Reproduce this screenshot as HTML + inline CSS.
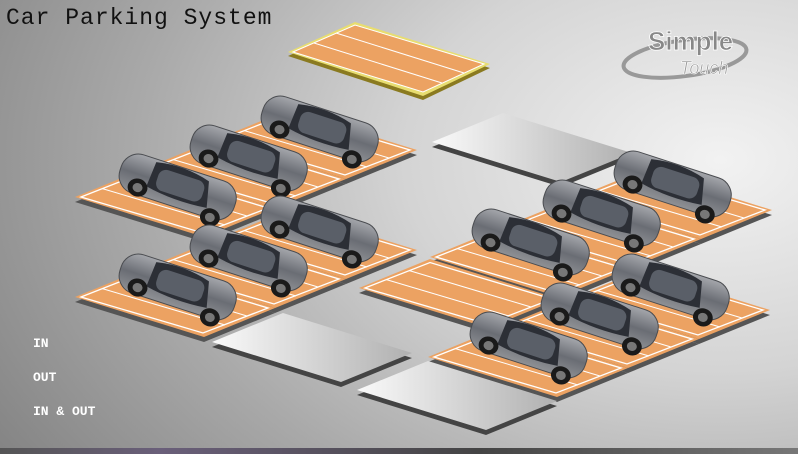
<!DOCTYPE html>
<html><head><meta charset="utf-8"><style>
html,body{margin:0;padding:0;width:798px;height:454px;overflow:hidden}
body{background:radial-gradient(ellipse 900px 600px at 720px 160px,#f2f2f2 0%,#d4d4d4 35%,#a9a9a9 65%,#7c7c7c 100%);font-family:"Liberation Sans",sans-serif;position:relative}
.t{position:absolute;left:6px;top:5px;font-family:"Liberation Mono",monospace;font-size:23px;color:#111;letter-spacing:1px}
.lab{position:absolute;left:33px;font-family:"Liberation Mono",monospace;font-weight:bold;font-size:13px;color:#fff}
.bar{position:absolute;left:0;top:448px;width:798px;height:6px;background:linear-gradient(90deg,#555,#6a5f7a 20%,#444 60%,#777)}
</style></head><body>
<div class="t">Car Parking System</div>
<div class="lab" style="top:336px">IN</div>
<div class="lab" style="top:370px">OUT</div>
<div class="lab" style="top:404px">IN &amp; OUT</div>
<svg width="798" height="454" style="position:absolute;left:0;top:0">
<defs>
<linearGradient id="padg" x1="0" y1="0" x2="1" y2="0"><stop offset="0" stop-color="#fafafa"/><stop offset="1" stop-color="#b0b0b0"/></linearGradient>
<linearGradient id="body" x1="0" y1="0" x2="0" y2="1"><stop offset="0" stop-color="#a4a6ab"/><stop offset=".5" stop-color="#6a6d74"/><stop offset="1" stop-color="#8f9195"/></linearGradient>
<g id="slot">
<polygon points="0,5 71,-24 200,16 129,45" fill="#555"/>
<polygon points="0,0 71,-29 200,11 129,40" fill="#eca262"/>
<polygon points="6,0 71,-25.5 193,11 128,36" fill="none" stroke="#fff" stroke-width="1.3"/>
<line x1="27" y1="-8.5" x2="150" y2="28" stroke="#fff" stroke-width="1"/>
<line x1="50" y1="-17.5" x2="172" y2="19" stroke="#fff" stroke-width="1"/>
</g>
<g id="gpad">
<polygon points="0,5 71,-24 200,16 129,45" fill="#444"/>
<polygon points="0,0 71,-29 200,11 129,40" fill="url(#padg)"/>
</g>
<g id="car">
<g transform="rotate(18)">
<rect x="-60" y="-19" width="120" height="40" rx="18" fill="url(#body)" stroke="#4a4c50"/>
<path d="M-28,-16 Q0,-22 28,-14 L34,12 Q0,16 -30,10 Z" fill="#2c2f36"/>
<rect x="-22" y="-12" width="48" height="22" rx="8" fill="#5a5f68"/>
<ellipse cx="-38" cy="14" rx="10" ry="9" fill="#1a1a1a"/>
<ellipse cx="-38" cy="14" rx="5" ry="4.5" fill="#777"/>
<ellipse cx="40" cy="20" rx="10" ry="9" fill="#1a1a1a"/>
<ellipse cx="40" cy="20" rx="5" ry="4.5" fill="#777"/>
</g>
</g>
</defs>
<!-- yellow slot -->
<polygon points="288,56 355,26 490,68 423,100" fill="#8a7a20"/>
<polygon points="288,52 355,22 490,64 423,96" fill="#e8dd70"/>
<polygon points="293,52 355,25 484,64 423,92" fill="#eca262" stroke="#fff" stroke-width="1"/>
<line x1="314" y1="43" x2="442" y2="83" stroke="#fff"/>
<line x1="336" y1="33" x2="464" y2="73" stroke="#fff"/>
<!-- logo -->
<ellipse cx="685" cy="58" rx="62" ry="18" fill="none" stroke="#999" stroke-width="4" transform="rotate(-8 685 58)"/>
<text x="648" y="50" font-family="Liberation Sans" font-weight="bold" font-size="26" fill="#888" stroke="#fff" stroke-width="0.8">Simple</text>
<text x="680" y="74" font-family="Liberation Sans" font-style="italic" font-size="18" fill="#999" stroke="#fff" stroke-width="0.6">Touch</text>
<!-- pads -->
<use href="#gpad" x="432" y="142"/>
<!-- left upper -->
<use href="#slot" x="217" y="139"/><use href="#car" x="320" y="128"/>
<use href="#slot" x="146" y="168"/><use href="#car" x="249" y="157"/>
<use href="#slot" x="75" y="197"/><use href="#car" x="178" y="186"/>
<!-- right upper -->
<use href="#slot" x="572" y="199"/><use href="#car" x="673" y="183"/>
<use href="#slot" x="501" y="228"/><use href="#car" x="602" y="212"/>
<!-- left lower -->
<use href="#slot" x="217" y="239"/><use href="#car" x="320" y="228"/>
<use href="#slot" x="430" y="257"/><use href="#car" x="531" y="241"/>
<use href="#slot" x="146" y="268"/><use href="#car" x="249" y="257"/>
<use href="#slot" x="359" y="288"/>
<use href="#slot" x="75" y="297"/><use href="#car" x="178" y="286"/>
<!-- right lower -->
<use href="#slot" x="570" y="299"/><use href="#car" x="671" y="286"/>
<use href="#slot" x="499" y="328"/><use href="#car" x="600" y="315"/>
<use href="#gpad" x="212" y="342"/>
<use href="#slot" x="428" y="357"/><use href="#car" x="529" y="344"/>
<use href="#gpad" x="357" y="390"/>
</svg>
<div class="bar"></div>
</body></html>
